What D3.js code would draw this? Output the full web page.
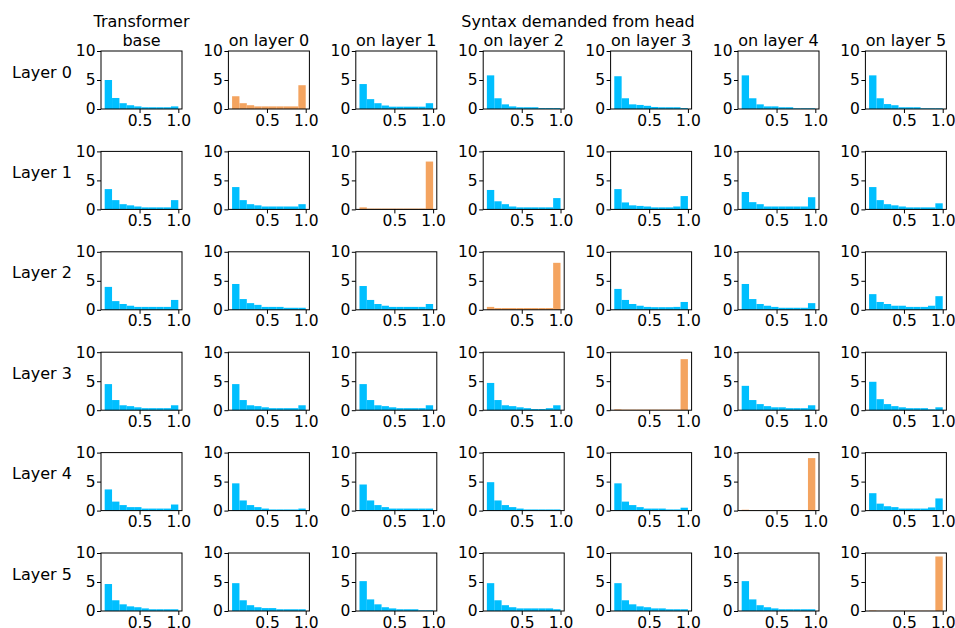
<!DOCTYPE html>
<html>
<head>
<meta charset="utf-8">
<script src="https://cdn.jsdelivr.net/npm/d3@7"></script>
<style>
  body { margin: 0; background: #fff; }
  text { font-family: "DejaVu Sans", sans-serif; fill: #000; }
  .tick text { font-size: 15.5px; }
</style>
</head>
<body>
<div id="plot"></div>
<script>
// titles and labels
var colTitles = [["Transformer", "base"], ["on layer 0"], ["on layer 1"], ["on layer 2"],
  ["on layer 3"], ["on layer 4"], ["on layer 5"]]
var rowLabels = ["Layer 0", "Layer 1", "Layer 2", "Layer 3", "Layer 4", "Layer 5"]
var superTitle = "Syntax demanded from head"

// histogram bins (10 bins)
var binEdges = [0.05, 0.145, 0.24, 0.335, 0.43, 0.525, 0.62, 0.715, 0.81, 0.905, 1.0]
var xTicks = [0.5, 1.0]
var yTicks = [0, 5, 10]

// densities per row, one array per column (base, on layer 0..5)
var layer0 = [
  [5.0, 1.9, 1.0, 0.65, 0.45, 0.3, 0.3, 0.3, 0.3, 0.45],
  [2.2, 1.0, 0.65, 0.45, 0.45, 0.45, 0.45, 0.45, 0.45, 4.1],
  [4.3, 1.7, 1.0, 0.6, 0.4, 0.4, 0.4, 0.4, 0.4, 1.0],
  [5.8, 1.85, 0.8, 0.45, 0.3, 0.3, 0.3, 0.15, 0.15, 0.15],
  [5.65, 1.85, 0.8, 0.7, 0.55, 0.35, 0.3, 0.3, 0.3, 0.15],
  [5.8, 1.85, 0.8, 0.45, 0.45, 0.3, 0.3, 0.12, 0.12, 0.12],
  [5.8, 1.85, 0.85, 0.65, 0.3, 0.3, 0.3, 0.12, 0.12, 0.12]
]
var layer1 = [
  [3.5, 1.6, 0.9, 0.7, 0.5, 0.35, 0.35, 0.35, 0.35, 1.6],
  [3.85, 1.6, 0.9, 0.7, 0.5, 0.5, 0.5, 0.5, 0.5, 0.9],
  [0.35, 0.15, 0.15, 0.15, 0.15, 0.15, 0.15, 0.15, 0.15, 8.25],
  [3.35, 1.4, 0.9, 0.5, 0.35, 0.35, 0.35, 0.35, 0.35, 1.95],
  [3.5, 1.2, 0.7, 0.6, 0.5, 0.35, 0.35, 0.35, 0.5, 2.3],
  [3.0, 1.25, 0.9, 0.5, 0.5, 0.5, 0.5, 0.5, 0.5, 2.1],
  [3.85, 1.6, 0.9, 0.7, 0.5, 0.35, 0.35, 0.35, 0.35, 1.05]
]
var layer2 = [
  [3.95, 1.5, 1.0, 0.7, 0.5, 0.5, 0.5, 0.5, 0.5, 1.7],
  [4.45, 1.85, 1.15, 0.85, 0.5, 0.5, 0.5, 0.35, 0.35, 0.35],
  [4.1, 1.7, 1.0, 0.7, 0.5, 0.5, 0.5, 0.5, 0.5, 1.0],
  [0.5, 0.3, 0.3, 0.3, 0.3, 0.3, 0.3, 0.3, 0.3, 8.1],
  [3.6, 1.7, 1.0, 0.7, 0.5, 0.45, 0.45, 0.45, 0.5, 1.35],
  [4.45, 1.85, 1.0, 0.7, 0.5, 0.35, 0.35, 0.35, 0.35, 1.15],
  [2.7, 1.35, 1.0, 0.7, 0.7, 0.5, 0.5, 0.5, 0.7, 2.35]
]
var layer3 = [
  [4.5, 1.75, 0.85, 0.7, 0.5, 0.35, 0.35, 0.35, 0.35, 0.85],
  [4.5, 1.75, 0.85, 0.7, 0.5, 0.35, 0.35, 0.35, 0.35, 0.85],
  [4.5, 1.75, 0.85, 0.7, 0.5, 0.35, 0.35, 0.35, 0.35, 0.85],
  [4.7, 1.75, 0.85, 0.7, 0.5, 0.35, 0.2, 0.2, 0.35, 0.85],
  [0.15, 0.1, 0.1, 0.1, 0.1, 0.1, 0.1, 0.1, 0.1, 8.8],
  [4.2, 1.75, 1.05, 0.7, 0.5, 0.5, 0.35, 0.35, 0.35, 0.85],
  [4.9, 1.9, 1.05, 0.7, 0.5, 0.35, 0.35, 0.35, 0.15, 0.5]
]
var layer4 = [
  [3.65, 1.55, 0.95, 0.6, 0.6, 0.35, 0.35, 0.35, 0.35, 1.05],
  [4.7, 1.75, 0.95, 0.6, 0.35, 0.2, 0.2, 0.2, 0.2, 0.35],
  [4.5, 1.75, 0.95, 0.6, 0.35, 0.35, 0.35, 0.35, 0.35, 0.35],
  [4.9, 1.75, 0.95, 0.6, 0.35, 0.2, 0.2, 0.2, 0.2, 0.2],
  [4.7, 1.55, 0.95, 0.6, 0.35, 0.35, 0.35, 0.2, 0.2, 0.5],
  [0.15, 0.05, 0.05, 0.05, 0.05, 0.05, 0.05, 0.05, 0.05, 9.05],
  [3.0, 1.2, 0.75, 0.6, 0.35, 0.35, 0.35, 0.35, 0.55, 2.1]
]
var layer5 = [
  [4.65, 1.85, 1.15, 0.8, 0.65, 0.45, 0.3, 0.3, 0.3, 0.3],
  [4.8, 1.85, 1.0, 0.65, 0.5, 0.5, 0.3, 0.3, 0.3, 0.3],
  [5.15, 2.0, 1.15, 0.65, 0.45, 0.3, 0.3, 0.3, 0.12, 0.12],
  [4.8, 1.85, 1.0, 0.65, 0.45, 0.45, 0.45, 0.45, 0.45, 0.3],
  [4.8, 1.85, 1.15, 0.8, 0.65, 0.45, 0.45, 0.3, 0.3, 0.3],
  [5.15, 2.0, 1.0, 0.65, 0.45, 0.3, 0.3, 0.3, 0.3, 0.3],
  [0.1, 0.05, 0.05, 0.05, 0.05, 0.05, 0.05, 0.05, 0.05, 9.4]
]
var layers = [layer0, layer1, layer2, layer3, layer4, layer5]

var blue = "#00bfff"
var orange = "#f4a460"

// grid geometry
var svgWidth = 955
var svgHeight = 628
var cellLeft = 101, cellStep = 127.4, cellW = 81
var cellTop = 51, rowStep = 100.4, cellH = 58

var svg = d3.select("#plot")
  .append("svg")
  .attr("width", svgWidth)
  .attr("height", svgHeight)

var x = d3.scaleLinear().domain([0.0025, 1.0475]).range([0, cellW])
var y = d3.scaleLinear().domain([0, 10]).range([cellH, 0])

layers.forEach(function (rowData, r) {
  rowData.forEach(function (vals, c) {
    var g = svg.append("g")
      .attr("transform", `translate(${cellLeft + c * cellStep}, ${cellTop + r * rowStep})`)

    var bins = vals.map((v, i) => ({ x0: binEdges[i], x1: binEdges[i + 1], v: v }))

    g.selectAll("rect.bar")
      .data(bins)
      .enter()
      .append("rect")
      .attr("class", "bar")
      .attr("x", d => x(d.x0))
      .attr("width", d => x(d.x1) - x(d.x0))
      .attr("y", d => y(d.v))
      .attr("height", d => y(0) - y(d.v))
      .attr("fill", c === r + 1 ? orange : blue)

    // axes
    g.append("g")
      .attr("transform", `translate(0, ${cellH})`)
      .call(d3.axisBottom(x).tickValues(xTicks).tickFormat(d3.format(".1f")).tickSize(4).tickPadding(1.5))
    g.append("g")
      .call(d3.axisLeft(y).tickValues(yTicks).tickSize(4).tickPadding(1.5))

    // box around the axes
    g.append("rect")
      .attr("width", cellW)
      .attr("height", cellH)
      .attr("fill", "none")
      .attr("stroke", "#000")
      .attr("stroke-width", 1)

    g.selectAll(".domain").remove()
    g.selectAll(".tick line").attr("stroke", "#000")
  })
})

// column titles
colTitles.forEach(function (lines, c) {
  var cx = cellLeft + c * cellStep + cellW / 2
  lines.forEach(function (t, i) {
    svg.append("text")
      .attr("x", cx)
      .attr("y", 45.5 - (lines.length - 1 - i) * 18.5)
      .attr("text-anchor", "middle")
      .style("font-size", "16px")
      .text(t)
  })
})

svg.append("text")
  .attr("x", 578)
  .attr("y", 27)
  .attr("text-anchor", "middle")
  .style("font-size", "16px")
  .text(superTitle)

// row labels
rowLabels.forEach(function (t, r) {
  svg.append("text")
    .attr("x", 12)
    .attr("y", cellTop + r * rowStep + 26.5)
    .style("font-size", "16px")
    .text(t)
})
</script>
</body>
</html>
